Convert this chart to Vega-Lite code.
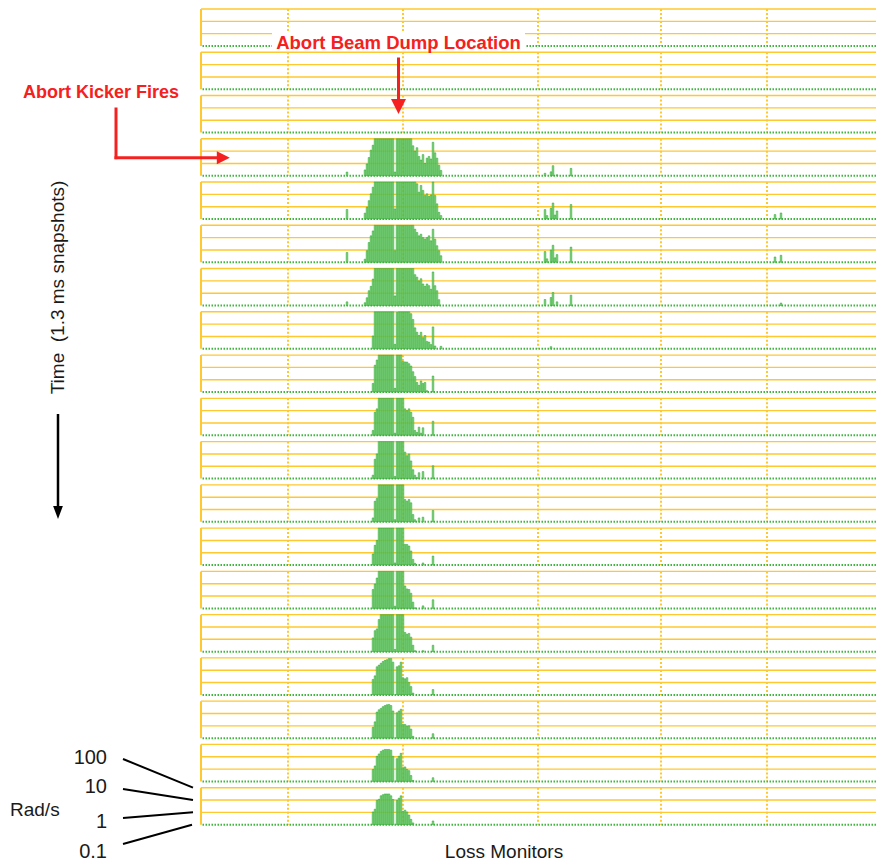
{
"$schema":"https://vega.github.io/schema/vega-lite/v6.json",
"padding":0,
"background":"white",
"config":{"view":{"stroke":null},"font":"Liberation Sans"},
"data":{"values":[
{"t":1,"a":"anchor"},{"t":2,"a":"beam"},{"t":3,"a":"beamarrow"},{"t":3,"a":"kickertext"},{"t":4,"a":"kicker"},{"t":7,"a":"time"},{"t":12,"a":"timearrow"},{"t":19,"a":"rad"},
{"t":4,"m":73,"v":0.2},{"t":4,"m":82,"v":0.3},{"t":4,"m":83,"v":0.9},{"t":4,"m":84,"v":3},{"t":4,"m":85,"v":12},{"t":4,"m":86,"v":30},
{"t":4,"m":87,"v":100},{"t":4,"m":88,"v":100},{"t":4,"m":89,"v":100},{"t":4,"m":90,"v":100},{"t":4,"m":91,"v":100},{"t":4,"m":92,"v":100},{"t":4,"m":93,"v":100},{"t":4,"m":94,"v":100},{"t":4,"m":95,"v":100},{"t":4,"m":96,"v":100},
{"t":4,"m":97,"v":0.2},{"t":4,"m":98,"v":100},{"t":4,"m":99,"v":100},{"t":4,"m":100,"v":100},{"t":4,"m":101,"v":100},{"t":4,"m":102,"v":100},{"t":4,"m":103,"v":100},{"t":4,"m":104,"v":100},{"t":4,"m":105,"v":100},
{"t":4,"m":106,"v":27},{"t":4,"m":107,"v":10},{"t":4,"m":108,"v":19},{"t":4,"m":109,"v":3.7},{"t":4,"m":110,"v":1.9},{"t":4,"m":111,"v":5.2},{"t":4,"m":112,"v":1},{"t":4,"m":113,"v":2.7},{"t":4,"m":114,"v":3.7},{"t":4,"m":115,"v":2.3},{"t":4,"m":116,"v":52},{"t":4,"m":117,"v":7.2},{"t":4,"m":118,"v":2.7},{"t":4,"m":119,"v":0.72},{"t":4,"m":120,"v":0.27},
{"t":4,"m":172,"v":0.16},{"t":4,"m":175,"v":0.21},{"t":4,"m":176,"v":0.66},{"t":4,"m":178,"v":0.12},{"t":4,"m":185,"v":0.4},
{"t":5,"m":73,"v":0.6},{"t":5,"m":82,"v":0.3},{"t":5,"m":83,"v":0.9},{"t":5,"m":84,"v":3.1},{"t":5,"m":85,"v":11},{"t":5,"m":86,"v":38},
{"t":5,"m":87,"v":100},{"t":5,"m":88,"v":100},{"t":5,"m":89,"v":100},{"t":5,"m":90,"v":100},{"t":5,"m":91,"v":100},{"t":5,"m":92,"v":100},{"t":5,"m":93,"v":100},{"t":5,"m":94,"v":100},{"t":5,"m":95,"v":100},{"t":5,"m":96,"v":100},
{"t":5,"m":97,"v":0.66},{"t":5,"m":98,"v":100},{"t":5,"m":99,"v":100},{"t":5,"m":100,"v":100},{"t":5,"m":101,"v":100},{"t":5,"m":102,"v":100},{"t":5,"m":103,"v":100},{"t":5,"m":104,"v":100},{"t":5,"m":105,"v":100},{"t":5,"m":106,"v":100},{"t":5,"m":107,"v":100},
{"t":5,"m":108,"v":72},{"t":5,"m":109,"v":15},{"t":5,"m":110,"v":53},{"t":5,"m":111,"v":21},{"t":5,"m":112,"v":8},{"t":5,"m":113,"v":11},{"t":5,"m":114,"v":7},{"t":5,"m":115,"v":9},{"t":5,"m":116,"v":100},{"t":5,"m":117,"v":8},{"t":5,"m":118,"v":1.7},{"t":5,"m":119,"v":0.35},{"t":5,"m":120,"v":0.19},
{"t":5,"m":172,"v":0.58},{"t":5,"m":173,"v":0.19},{"t":5,"m":175,"v":0.74},{"t":5,"m":176,"v":2},{"t":5,"m":177,"v":0.21},{"t":5,"m":178,"v":0.45},{"t":5,"m":185,"v":1.5},{"t":5,"m":287,"v":0.23},{"t":5,"m":290,"v":0.31},
{"t":6,"m":73,"v":0.63},{"t":6,"m":82,"v":0.18},{"t":6,"m":83,"v":0.87},{"t":6,"m":84,"v":4},{"t":6,"m":85,"v":14},{"t":6,"m":86,"v":35},
{"t":6,"m":87,"v":100},{"t":6,"m":88,"v":100},{"t":6,"m":89,"v":100},{"t":6,"m":90,"v":100},{"t":6,"m":91,"v":100},{"t":6,"m":92,"v":100},{"t":6,"m":93,"v":100},{"t":6,"m":94,"v":100},{"t":6,"m":95,"v":100},{"t":6,"m":96,"v":100},
{"t":6,"m":97,"v":0.87},{"t":6,"m":98,"v":100},{"t":6,"m":99,"v":100},{"t":6,"m":100,"v":100},{"t":6,"m":101,"v":100},{"t":6,"m":102,"v":100},{"t":6,"m":103,"v":100},{"t":6,"m":104,"v":100},{"t":6,"m":105,"v":100},{"t":6,"m":106,"v":100},
{"t":6,"m":107,"v":48},{"t":6,"m":108,"v":26},{"t":6,"m":109,"v":14},{"t":6,"m":110,"v":19},{"t":6,"m":111,"v":10},{"t":6,"m":112,"v":7.5},{"t":6,"m":113,"v":10},{"t":6,"m":114,"v":14},{"t":6,"m":115,"v":5.5},{"t":6,"m":116,"v":48},{"t":6,"m":117,"v":7.5},{"t":6,"m":118,"v":2.2},{"t":6,"m":119,"v":0.87},{"t":6,"m":120,"v":0.34},
{"t":6,"m":172,"v":0.74},{"t":6,"m":173,"v":0.19},{"t":6,"m":175,"v":0.96},{"t":6,"m":176,"v":2.4},{"t":6,"m":177,"v":0.23},{"t":6,"m":178,"v":0.42},{"t":6,"m":185,"v":1.7},{"t":6,"m":287,"v":0.27},{"t":6,"m":290,"v":0.37},
{"t":7,"m":73,"v":0.2},{"t":7,"m":82,"v":0.17},{"t":7,"m":83,"v":0.43},{"t":7,"m":84,"v":1.6},{"t":7,"m":85,"v":3.6},{"t":7,"m":86,"v":14},
{"t":7,"m":87,"v":100},{"t":7,"m":88,"v":100},{"t":7,"m":89,"v":100},{"t":7,"m":90,"v":100},{"t":7,"m":91,"v":100},{"t":7,"m":92,"v":100},{"t":7,"m":93,"v":100},{"t":7,"m":94,"v":100},{"t":7,"m":95,"v":100},{"t":7,"m":96,"v":100},
{"t":7,"m":97,"v":0.6},{"t":7,"m":98,"v":100},{"t":7,"m":99,"v":100},{"t":7,"m":100,"v":100},{"t":7,"m":101,"v":100},{"t":7,"m":102,"v":100},{"t":7,"m":103,"v":100},{"t":7,"m":104,"v":100},{"t":7,"m":105,"v":100},{"t":7,"m":106,"v":100},
{"t":7,"m":107,"v":32},{"t":7,"m":108,"v":20},{"t":7,"m":109,"v":10},{"t":7,"m":110,"v":15},{"t":7,"m":111,"v":5.6},{"t":7,"m":112,"v":3.6},{"t":7,"m":113,"v":5.6},{"t":7,"m":114,"v":4.1},{"t":7,"m":115,"v":2.1},{"t":7,"m":116,"v":53},{"t":7,"m":117,"v":4.1},{"t":7,"m":118,"v":1.6},{"t":7,"m":119,"v":0.3},
{"t":7,"m":172,"v":0.31},{"t":7,"m":175,"v":0.45},{"t":7,"m":176,"v":1.15},{"t":7,"m":178,"v":0.2},{"t":7,"m":185,"v":0.7},{"t":7,"m":290,"v":0.16},
{"t":8,"m":86,"v":1.1},{"t":8,"m":87,"v":100},{"t":8,"m":88,"v":100},{"t":8,"m":89,"v":100},{"t":8,"m":90,"v":100},{"t":8,"m":91,"v":100},{"t":8,"m":92,"v":100},{"t":8,"m":93,"v":100},{"t":8,"m":94,"v":100},{"t":8,"m":95,"v":100},{"t":8,"m":96,"v":100},
{"t":8,"m":97,"v":0.23},{"t":8,"m":98,"v":90},{"t":8,"m":99,"v":100},{"t":8,"m":100,"v":100},{"t":8,"m":101,"v":100},{"t":8,"m":102,"v":100},{"t":8,"m":103,"v":100},{"t":8,"m":104,"v":100},{"t":8,"m":105,"v":70},
{"t":8,"m":106,"v":24},{"t":8,"m":107,"v":5},{"t":8,"m":108,"v":2.2},{"t":8,"m":109,"v":1.2},{"t":8,"m":110,"v":2.2},{"t":8,"m":111,"v":0.8},{"t":8,"m":112,"v":1.2},{"t":8,"m":113,"v":0.4},{"t":8,"m":114,"v":0.35},{"t":8,"m":115,"v":0.22},{"t":8,"m":116,"v":6},{"t":8,"m":117,"v":0.17},{"t":8,"m":120,"v":0.16},{"t":8,"m":175,"v":0.15},
{"t":9,"m":86,"v":0.5},{"t":9,"m":87,"v":15},{"t":9,"m":88,"v":40},{"t":9,"m":89,"v":100},{"t":9,"m":90,"v":100},{"t":9,"m":91,"v":100},{"t":9,"m":92,"v":100},{"t":9,"m":93,"v":100},{"t":9,"m":94,"v":100},{"t":9,"m":95,"v":100},{"t":9,"m":96,"v":100},
{"t":9,"m":97,"v":0.2},{"t":9,"m":98,"v":100},{"t":9,"m":99,"v":100},{"t":9,"m":100,"v":100},{"t":9,"m":101,"v":30},{"t":9,"m":102,"v":28},{"t":9,"m":103,"v":27},{"t":9,"m":104,"v":20},{"t":9,"m":105,"v":13},{"t":9,"m":106,"v":4.5},{"t":9,"m":107,"v":1.8},{"t":9,"m":108,"v":0.6},{"t":9,"m":109,"v":0.35},{"t":9,"m":110,"v":0.8},{"t":9,"m":111,"v":0.5},{"t":9,"m":112,"v":0.6},{"t":9,"m":113,"v":0.13},{"t":9,"m":116,"v":2},
{"t":10,"m":86,"v":0.25},{"t":10,"m":87,"v":7.5},{"t":10,"m":88,"v":14},{"t":10,"m":89,"v":100},{"t":10,"m":90,"v":100},{"t":10,"m":91,"v":100},{"t":10,"m":92,"v":100},{"t":10,"m":93,"v":100},{"t":10,"m":94,"v":100},{"t":10,"m":95,"v":100},{"t":10,"m":96,"v":100},
{"t":10,"m":97,"v":0.15},{"t":10,"m":98,"v":100},{"t":10,"m":99,"v":100},{"t":10,"m":100,"v":100},{"t":10,"m":101,"v":100},{"t":10,"m":102,"v":14},{"t":10,"m":103,"v":10},{"t":10,"m":104,"v":14},{"t":10,"m":105,"v":7.5},{"t":10,"m":106,"v":2.9},{"t":10,"m":107,"v":0.25},{"t":10,"m":108,"v":0.17},{"t":10,"m":109,"v":0.46},{"t":10,"m":110,"v":0.15},{"t":10,"m":111,"v":0.41},{"t":10,"m":116,"v":1.4},
{"t":11,"m":86,"v":0.19},{"t":11,"m":87,"v":3.7},{"t":11,"m":88,"v":10},{"t":11,"m":89,"v":100},{"t":11,"m":90,"v":100},{"t":11,"m":91,"v":100},{"t":11,"m":92,"v":100},{"t":11,"m":93,"v":100},{"t":11,"m":94,"v":100},{"t":11,"m":95,"v":100},{"t":11,"m":96,"v":100},
{"t":11,"m":97,"v":0.15},{"t":11,"m":98,"v":100},{"t":11,"m":99,"v":100},{"t":11,"m":100,"v":100},{"t":11,"m":101,"v":100},{"t":11,"m":102,"v":14},{"t":11,"m":103,"v":7.2},{"t":11,"m":104,"v":10},{"t":11,"m":105,"v":2.7},{"t":11,"m":106,"v":0.52},{"t":11,"m":107,"v":0.19},{"t":11,"m":108,"v":0.12},{"t":11,"m":109,"v":0.3},{"t":11,"m":111,"v":0.37},{"t":11,"m":116,"v":1.1},
{"t":12,"m":86,"v":0.21},{"t":12,"m":87,"v":4.7},{"t":12,"m":88,"v":7.8},{"t":12,"m":89,"v":100},{"t":12,"m":90,"v":100},{"t":12,"m":91,"v":100},{"t":12,"m":92,"v":100},{"t":12,"m":93,"v":100},{"t":12,"m":94,"v":100},{"t":12,"m":95,"v":100},{"t":12,"m":96,"v":100},
{"t":12,"m":97,"v":0.15},{"t":12,"m":98,"v":100},{"t":12,"m":99,"v":100},{"t":12,"m":100,"v":100},{"t":12,"m":101,"v":100},{"t":12,"m":102,"v":6.4},{"t":12,"m":103,"v":4.7},{"t":12,"m":104,"v":6.4},{"t":12,"m":105,"v":3.5},{"t":12,"m":106,"v":0.39},{"t":12,"m":107,"v":0.15},{"t":12,"m":109,"v":0.21},{"t":12,"m":111,"v":0.24},{"t":12,"m":116,"v":0.83},
{"t":13,"m":86,"v":0.8},{"t":13,"m":87,"v":4},{"t":13,"m":88,"v":10},{"t":13,"m":89,"v":100},{"t":13,"m":90,"v":100},{"t":13,"m":91,"v":100},{"t":13,"m":92,"v":100},{"t":13,"m":93,"v":100},{"t":13,"m":94,"v":100},{"t":13,"m":95,"v":100},{"t":13,"m":96,"v":100},
{"t":13,"m":97,"v":0.15},{"t":13,"m":98,"v":100},{"t":13,"m":99,"v":100},{"t":13,"m":100,"v":100},{"t":13,"m":101,"v":100},{"t":13,"m":102,"v":4.7},{"t":13,"m":103,"v":4.7},{"t":13,"m":104,"v":3.5},{"t":13,"m":105,"v":1.4},{"t":13,"m":106,"v":0.29},{"t":13,"m":107,"v":0.14},{"t":13,"m":111,"v":0.15},{"t":13,"m":116,"v":0.54},
{"t":14,"m":86,"v":3.4},{"t":14,"m":87,"v":9.3},{"t":14,"m":88,"v":29},{"t":14,"m":89,"v":100},{"t":14,"m":90,"v":100},{"t":14,"m":91,"v":100},{"t":14,"m":92,"v":100},{"t":14,"m":93,"v":100},{"t":14,"m":94,"v":100},{"t":14,"m":95,"v":100},{"t":14,"m":96,"v":100},
{"t":14,"m":97,"v":0.15},{"t":14,"m":98,"v":100},{"t":14,"m":99,"v":100},{"t":14,"m":100,"v":100},{"t":14,"m":101,"v":100},{"t":14,"m":102,"v":6.6},{"t":14,"m":103,"v":3.8},{"t":14,"m":104,"v":3.4},{"t":14,"m":105,"v":1.7},{"t":14,"m":106,"v":0.32},{"t":14,"m":107,"v":0.11},{"t":14,"m":111,"v":0.16},{"t":14,"m":116,"v":0.5},
{"t":15,"m":86,"v":1.3},{"t":15,"m":87,"v":5},{"t":15,"m":88,"v":7},{"t":15,"m":89,"v":40},{"t":15,"m":90,"v":100},{"t":15,"m":91,"v":100},{"t":15,"m":92,"v":100},{"t":15,"m":93,"v":100},{"t":15,"m":94,"v":100},{"t":15,"m":95,"v":100},{"t":15,"m":96,"v":100},
{"t":15,"m":97,"v":0.15},{"t":15,"m":98,"v":100},{"t":15,"m":99,"v":100},{"t":15,"m":100,"v":100},{"t":15,"m":101,"v":100},{"t":15,"m":102,"v":3.6},{"t":15,"m":103,"v":2.6},{"t":15,"m":104,"v":3},{"t":15,"m":105,"v":1.5},{"t":15,"m":106,"v":0.33},{"t":15,"m":107,"v":0.12},{"t":15,"m":111,"v":0.12},{"t":15,"m":116,"v":0.33},
{"t":16,"m":86,"v":1.8},{"t":16,"m":87,"v":3.5},{"t":16,"m":88,"v":19},{"t":16,"m":89,"v":26},{"t":16,"m":90,"v":37},{"t":16,"m":91,"v":51},{"t":16,"m":92,"v":63},{"t":16,"m":93,"v":72},{"t":16,"m":94,"v":88},{"t":16,"m":95,"v":88},{"t":16,"m":96,"v":45},
{"t":16,"m":98,"v":19},{"t":16,"m":99,"v":23},{"t":16,"m":100,"v":45},{"t":16,"m":101,"v":2.5},{"t":16,"m":102,"v":2},{"t":16,"m":103,"v":2.5},{"t":16,"m":104,"v":1},{"t":16,"m":105,"v":0.47},{"t":16,"m":106,"v":0.14},{"t":16,"m":116,"v":0.27},
{"t":17,"m":86,"v":0.76},{"t":17,"m":87,"v":2.1},{"t":17,"m":88,"v":13},{"t":17,"m":89,"v":20},{"t":17,"m":90,"v":26},{"t":17,"m":91,"v":36},{"t":17,"m":92,"v":44},{"t":17,"m":93,"v":51},{"t":17,"m":94,"v":54},{"t":17,"m":95,"v":44},{"t":17,"m":96,"v":16},
{"t":17,"m":98,"v":11.4},{"t":17,"m":99,"v":16},{"t":17,"m":100,"v":22},{"t":17,"m":101,"v":1.3},{"t":17,"m":102,"v":1.3},{"t":17,"m":103,"v":0.93},{"t":17,"m":104,"v":1},{"t":17,"m":105,"v":0.54},{"t":17,"m":106,"v":0.14},{"t":17,"m":116,"v":0.23},
{"t":18,"m":86,"v":0.93},{"t":18,"m":87,"v":1.8},{"t":18,"m":88,"v":11},{"t":18,"m":89,"v":17},{"t":18,"m":90,"v":27},{"t":18,"m":91,"v":34},{"t":18,"m":92,"v":39},{"t":18,"m":93,"v":39},{"t":18,"m":94,"v":39},{"t":18,"m":95,"v":34},{"t":18,"m":96,"v":11},
{"t":18,"m":98,"v":7},{"t":18,"m":99,"v":11},{"t":18,"m":100,"v":19},{"t":18,"m":101,"v":1.3},{"t":18,"m":102,"v":1.5},{"t":18,"m":103,"v":0.93},{"t":18,"m":104,"v":0.75},{"t":18,"m":105,"v":0.3},{"t":18,"m":106,"v":0.12},{"t":18,"m":116,"v":0.2},
{"t":19,"m":86,"v":1.07},{"t":19,"m":87,"v":1.8},{"t":19,"m":88,"v":9.3},{"t":19,"m":89,"v":11.4},{"t":19,"m":90,"v":22},{"t":19,"m":91,"v":27},{"t":19,"m":92,"v":31},{"t":19,"m":93,"v":31},{"t":19,"m":94,"v":31},{"t":19,"m":95,"v":22},{"t":19,"m":96,"v":11},
{"t":19,"m":98,"v":9.3},{"t":19,"m":99,"v":14},{"t":19,"m":100,"v":22},{"t":19,"m":101,"v":1.2},{"t":19,"m":102,"v":1.5},{"t":19,"m":103,"v":1.07},{"t":19,"m":104,"v":0.6},{"t":19,"m":105,"v":0.27},{"t":19,"m":106,"v":0.14},{"t":19,"m":116,"v":0.2}
]},
"facet":{"row":{"field":"t","type":"ordinal","title":null,"header":{"labels":false,"title":null,"labelPadding":0,"titlePadding":0}}},
"spacing":{"row":6.26},
"bounds":"flush",
"spec":{
"width":675,"height":37,
"layer":[
{"transform":[{"aggregate":[{"op":"count","as":"n"}],"groupby":["t"]}],
 "mark":{"type":"rule","stroke":"#FFC82E","strokeWidth":1.4},
 "encoding":{"y":{"datum":100,"axis":null}}},
{"transform":[{"aggregate":[{"op":"count","as":"n"}],"groupby":["t"]}],
 "mark":{"type":"rule","stroke":"#FFC82E","strokeWidth":1.4},
 "encoding":{"y":{"datum":10,"axis":null}}},
{"transform":[{"aggregate":[{"op":"count","as":"n"}],"groupby":["t"]}],
 "mark":{"type":"rule","stroke":"#FFC82E","strokeWidth":1.4},
 "encoding":{"y":{"datum":1,"axis":null}}},
{"transform":[{"aggregate":[{"op":"count","as":"n"}],"groupby":["t"]}],
 "mark":{"type":"rule","stroke":"#FFC82E","strokeWidth":2},
 "encoding":{"x":{"datum":0,"axis":null}}},
{"transform":[{"aggregate":[{"op":"count","as":"n"}],"groupby":["t"]}],
 "mark":{"type":"rule","stroke":"#FFC82E","strokeWidth":2,"strokeDash":[2,2]},
 "encoding":{"x":{"datum":43.5,"axis":null}}},
{"transform":[{"aggregate":[{"op":"count","as":"n"}],"groupby":["t"]}],
 "mark":{"type":"rule","stroke":"#FFC82E","strokeWidth":2,"strokeDash":[2,2]},
 "encoding":{"x":{"datum":101,"axis":null}}},
{"transform":[{"aggregate":[{"op":"count","as":"n"}],"groupby":["t"]}],
 "mark":{"type":"rule","stroke":"#FFC82E","strokeWidth":2,"strokeDash":[2,2]},
 "encoding":{"x":{"datum":168.5,"axis":null}}},
{"transform":[{"aggregate":[{"op":"count","as":"n"}],"groupby":["t"]}],
 "mark":{"type":"rule","stroke":"#FFC82E","strokeWidth":2,"strokeDash":[2,2]},
 "encoding":{"x":{"datum":230,"axis":null}}},
{"transform":[{"aggregate":[{"op":"count","as":"n"}],"groupby":["t"]}],
 "mark":{"type":"rule","stroke":"#FFC82E","strokeWidth":2,"strokeDash":[2,2]},
 "encoding":{"x":{"datum":283,"axis":null}}},
{"transform":[{"aggregate":[{"op":"count","as":"n"}],"groupby":["t"]}],
 "mark":{"type":"rule","stroke":"#3DB83D","strokeWidth":2,"strokeDash":[1.5,1.5]},
 "encoding":{"y":{"datum":0.1,"axis":null}}},
{"transform":[{"filter":"isValid(datum.v)"}],
 "mark":{"type":"bar","width":1.6,"fill":"#84D984","stroke":"#1F9F1F","strokeWidth":0.5},
 "encoding":{
  "x":{"field":"m","type":"quantitative","scale":{"domain":[0,337.5],"nice":false,"zero":false,"padding":0},"axis":null},
  "y":{"field":"v","type":"quantitative","scale":{"type":"log","domain":[0.1,100],"nice":false},"axis":null},
  "y2":{"datum":0.1}
 }},
{"transform":[{"filter":"datum.a=='anchor'"}],
 "mark":{"type":"rule","opacity":0,"strokeWidth":0},
 "encoding":{"x":{"datum":-100.5,"axis":null},"x2":{"datum":-100.5},"y":{"datum":445.4,"axis":null},"y2":{"datum":445.4}}},
{"transform":[{"filter":"datum.a=='beam'"}],
 "mark":{"type":"rect","fill":"white"},
 "encoding":{"x":{"datum":35.5,"axis":null},"x2":{"datum":162},"y":{"datum":4391,"axis":null},"y2":{"datum":138.9}}},
{"transform":[{"filter":"datum.a=='beam'"}],
 "mark":{"type":"text","text":"Abort Beam Dump Location","fontWeight":"bold","fontSize":18.5,"fill":"#F52020","align":"center","baseline":"middle"},
 "encoding":{"x":{"datum":98.75,"axis":null},"y":{"datum":563.6,"axis":null}}},
{"transform":[{"filter":"datum.a=='beamarrow'"}],
 "mark":{"type":"rule","stroke":"#F52020","strokeWidth":3},
 "encoding":{"x":{"datum":98.75,"axis":null},"y":{"datum":121000,"axis":null},"y2":{"datum":35.94}}},
{"transform":[{"filter":"datum.a=='beamarrow'"}],
 "mark":{"type":"point","shape":"M-1,-1L1,-1L0,1Z","size":225,"filled":true,"fill":"#F52020","opacity":1,"strokeWidth":0},
 "encoding":{"x":{"datum":98.75,"axis":null},"y":{"datum":12.88,"axis":null}}},
{"transform":[{"filter":"datum.a=='kickertext'"}],
 "mark":{"type":"text","text":"Abort Kicker Fires","fontWeight":"bold","fontSize":18,"fill":"#F52020","align":"center","baseline":"middle"},
 "encoding":{"x":{"datum":-50,"axis":null},"y":{"datum":160.1,"axis":null}}},
{"transform":[{"filter":"datum.a=='kicker'"}],
 "mark":{"type":"rule","stroke":"#F52020","strokeWidth":3,"strokeCap":"square"},
 "encoding":{"x":{"datum":-42.5,"axis":null},"y":{"datum":25980,"axis":null},"y2":{"datum":2.922}}},
{"transform":[{"filter":"datum.a=='kicker'"}],
 "mark":{"type":"rule","stroke":"#F52020","strokeWidth":3,"strokeCap":"square"},
 "encoding":{"x":{"datum":-42.5,"axis":null},"x2":{"datum":8},"y":{"datum":2.922,"axis":null}}},
{"transform":[{"filter":"datum.a=='kicker'"}],
 "mark":{"type":"point","shape":"M-1,-1L1,0L-1,1Z","size":169,"filled":true,"fill":"#F52020","opacity":1,"strokeWidth":0},
 "encoding":{"x":{"datum":11.17,"axis":null},"y":{"datum":2.922,"axis":null}}},
{"transform":[{"filter":"datum.a=='time'"}],
 "mark":{"type":"text","text":"Time\u00a0 (1.3 ms snapshots)","fontSize":19,"fill":"#1a1a1a","angle":270,"align":"center","baseline":"middle"},
 "encoding":{"x":{"datum":-71.5,"axis":null},"y":{"datum":2.912,"axis":null}}},
{"transform":[{"filter":"datum.a=='timearrow'"}],
 "mark":{"type":"rule","stroke":"#000000","strokeWidth":2.5},
 "encoding":{"x":{"datum":-71.5,"axis":null},"y":{"datum":55660000,"axis":null},"y2":{"datum":1.931}}},
{"transform":[{"filter":"datum.a=='timearrow'"}],
 "mark":{"type":"point","shape":"M-0.75,-1L0.75,-1L0,1Z","size":169,"filled":true,"fill":"#000000","opacity":1,"strokeWidth":0},
 "encoding":{"x":{"datum":-71.5,"axis":null},"y":{"datum":0.5739,"axis":null}}},
{"transform":[{"filter":"datum.a=='rad'"}],
 "mark":{"type":"rule","stroke":"#000000","strokeWidth":2},
 "encoding":{"x":{"datum":-39,"axis":null},"x2":{"datum":-4},"y":{"datum":21160,"axis":null},"y2":{"datum":100}}},
{"transform":[{"filter":"datum.a=='rad'"}],
 "mark":{"type":"rule","stroke":"#000000","strokeWidth":2},
 "encoding":{"x":{"datum":-39,"axis":null},"x2":{"datum":-4},"y":{"datum":78.2,"axis":null},"y2":{"datum":10}}},
{"transform":[{"filter":"datum.a=='rad'"}],
 "mark":{"type":"rule","stroke":"#000000","strokeWidth":2},
 "encoding":{"x":{"datum":-39,"axis":null},"x2":{"datum":-4},"y":{"datum":0.348,"axis":null},"y2":{"datum":1}}},
{"transform":[{"filter":"datum.a=='rad'"}],
 "mark":{"type":"rule","stroke":"#000000","strokeWidth":2},
 "encoding":{"x":{"datum":-39,"axis":null},"x2":{"datum":-4.5},"y":{"datum":0.00271,"axis":null},"y2":{"datum":0.1}}},
{"transform":[{"filter":"datum.a=='rad'"}],
 "mark":{"type":"text","text":"100","fontSize":20,"fill":"#1a1a1a","align":"right","baseline":"alphabetic"},
 "encoding":{"x":{"datum":-47,"axis":null},"y":{"datum":8318,"axis":null}}},
{"transform":[{"filter":"datum.a=='rad'"}],
 "mark":{"type":"text","text":"10","fontSize":20,"fill":"#1a1a1a","align":"right","baseline":"alphabetic"},
 "encoding":{"x":{"datum":-47,"axis":null},"y":{"datum":37.03,"axis":null}}},
{"transform":[{"filter":"datum.a=='rad'"}],
 "mark":{"type":"text","text":"1","fontSize":20,"fill":"#1a1a1a","align":"right","baseline":"alphabetic"},
 "encoding":{"x":{"datum":-47,"axis":null},"y":{"datum":0.05378,"axis":null}}},
{"transform":[{"filter":"datum.a=='rad'"}],
 "mark":{"type":"text","text":"0.1","fontSize":20,"fill":"#1a1a1a","align":"right","baseline":"alphabetic"},
 "encoding":{"x":{"datum":-47,"axis":null},"y":{"datum":0.0001987,"axis":null}}},
{"transform":[{"filter":"datum.a=='rad'"}],
 "mark":{"type":"text","text":"Rad/s","fontSize":19,"fill":"#1a1a1a","align":"left","baseline":"alphabetic"},
 "encoding":{"x":{"datum":-95.5,"axis":null},"y":{"datum":0.5055,"axis":null}}},
{"transform":[{"filter":"datum.a=='rad'"}],
 "mark":{"type":"text","text":"Loss Monitors","fontSize":19,"fill":"#1a1a1a","align":"center","baseline":"alphabetic"},
 "encoding":{"x":{"datum":151.5,"axis":null},"y":{"datum":0.0001987,"axis":null}}}
]}
}
